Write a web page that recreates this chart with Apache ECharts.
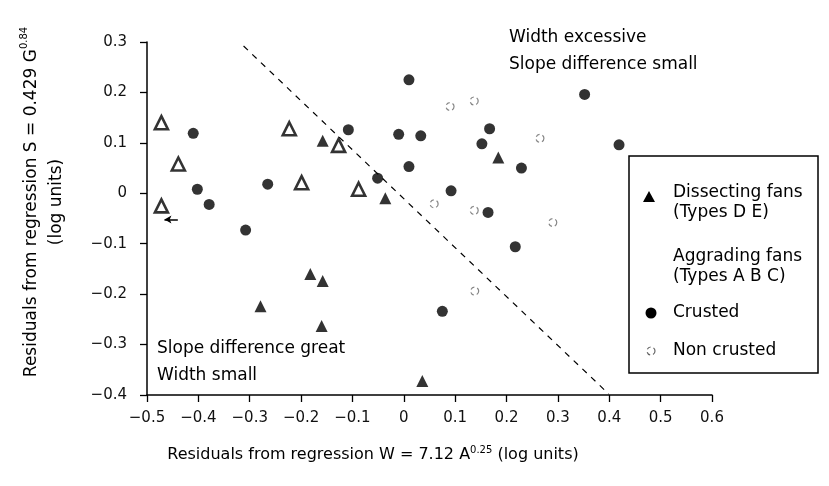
<!DOCTYPE html>
<html>
<head>
<meta charset="utf-8">
<script src="https://cdn.jsdelivr.net/npm/echarts@6/dist/echarts.min.js"></script>
<style>html,body{margin:0;padding:0;background:#fff}#c{width:829px;height:486px}</style>
</head>
<body>
<div id="c"></div>
<script>
// Dissecting fans (Types D E) - filled triangles
var dissecting = [
  [-0.158, 0.104], [-0.036, -0.010], [0.184, 0.071], [-0.182, -0.160],
  [-0.158, -0.174], [-0.279, -0.224], [-0.160, -0.263], [0.036, -0.372]
];
// open triangles
var openTriangles = [
  [-0.472, 0.140], [-0.439, 0.058], [-0.472, -0.025], [-0.223, 0.128],
  [-0.127, 0.095], [-0.199, 0.021], [-0.088, 0.008]
];
// Aggrading fans - crusted (filled circles)
var crusted = [
  [-0.410, 0.119], [-0.402, 0.008], [-0.379, -0.022], [-0.265, 0.018],
  [-0.308, -0.073], [-0.108, 0.126], [-0.051, 0.030], [-0.010, 0.117],
  [0.010, 0.225], [0.010, 0.053], [0.033, 0.114], [0.167, 0.128],
  [0.152, 0.098], [0.229, 0.050], [0.092, 0.005], [0.164, -0.038],
  [0.352, 0.196], [0.419, 0.096], [0.217, -0.106], [0.075, -0.234]
];
// Aggrading fans - non crusted (open circles)
var nonCrusted = [
  [0.137, 0.183], [0.090, 0.172], [0.265, 0.109], [0.059, -0.021],
  [0.137, -0.034], [0.138, -0.194], [0.290, -0.058]
];
// dividing dashed line
var dividingLine = [[-0.312, 0.292], [0.399, -0.398]];
// arrow marker
var arrowFrom = [-0.440, -0.052];
var arrowTo = [-0.466, -0.052];

var xTicks = {min: -0.5, max: 0.6, step: 0.1};
var yTicks = {min: -0.4, max: 0.3, step: 0.1};

var FONT = '"DejaVu Sans", "Liberation Sans", Arial, sans-serif';
var chart = echarts.init(document.getElementById('c'), null, {renderer: 'canvas'});

function fmt(v) {
  var r = Math.round(v * 10) / 10;
  if (r === 0) return '0';
  return r.toFixed(1).replace('-', '\u2212');
}

function txt(x, y, s, size) {
  return {type: 'text', x: x, y: y, style: {text: s, font: size + 'px ' + FONT, fill: '#000', verticalAlign: 'middle'}};
}

var option = {
  backgroundColor: '#fff',
  animation: false,
  grid: {left: 147, top: 42, width: 565, height: 353, containLabel: false},
  xAxis: {
    type: 'value', min: xTicks.min, max: xTicks.max, interval: xTicks.step,
    axisLine: {show: true, onZero: false, lineStyle: {color: '#000', width: 1.5}},
    axisTick: {show: true, inside: false, length: 7, lineStyle: {color: '#000', width: 1.3}},
    axisLabel: {color: '#111', fontSize: 15, fontFamily: FONT, margin: 16, formatter: fmt},
    splitLine: {show: false}
  },
  yAxis: {
    type: 'value', min: yTicks.min, max: yTicks.max, interval: yTicks.step,
    axisLine: {show: true, onZero: false, lineStyle: {color: '#000', width: 1.5}},
    axisTick: {show: true, inside: false, length: 7, lineStyle: {color: '#000', width: 1.3}},
    axisLabel: {color: '#111', fontSize: 15, fontFamily: FONT, margin: 20, formatter: fmt},
    splitLine: {show: false}
  },
  series: [
    {
      name: 'Divide', type: 'line', data: dividingLine, symbol: 'none',
      lineStyle: {color: '#000', width: 1.2, type: [6, 6]}, z: 1, silent: true,
      markLine: {
        silent: true, symbol: ['none', 'arrow'], symbolSize: [6, 7],
        label: {show: false},
        lineStyle: {color: '#000', width: 1.5, type: 'solid'},
        data: [[{coord: arrowFrom}, {coord: arrowTo}]]
      }
    },
    {
      name: 'Dissecting fans', type: 'scatter', data: dissecting,
      symbol: 'triangle', symbolSize: 12, itemStyle: {color: '#000'}
    },
    {
      name: 'Open triangles', type: 'scatter', data: openTriangles,
      symbol: 'triangle', symbolSize: 13,
      itemStyle: {color: '#fff', borderColor: '#000', borderWidth: 2.6}
    },
    {
      name: 'Crusted', type: 'scatter', data: crusted,
      symbol: 'circle', symbolSize: 11, itemStyle: {color: '#000'}
    },
    {
      name: 'Non crusted', type: 'scatter', data: nonCrusted,
      symbol: 'circle', symbolSize: 8,
      itemStyle: {color: 'rgba(255,255,255,0)', borderColor: '#666', borderWidth: 1.2, borderType: [4, 3]}
    }
  ],
  graphic: [
    txt(509, 38, 'Width excessive', 17),
    txt(509, 65, 'Slope difference small', 17),
    txt(157, 349, 'Slope difference great', 17),
    txt(157, 376, 'Width small', 17),
    {
      type: 'text', x: 373, y: 455,
      style: {
        text: '{a|Residuals from regression W = 7.12 A}{s|0.25}{a| (log units)}',
        align: 'center', verticalAlign: 'middle',
        rich: {a: {fontSize: 16, fontFamily: FONT, color: '#000'}, s: {fontSize: 10, fontFamily: FONT, color: '#000', verticalAlign: 'top', padding: [0, 0, 9, 0]}}
      }
    },
    {
      type: 'text', x: 44, y: 202, rotation: Math.PI / 2,
      style: {
        text: '{a|Residuals from regression S = 0.429 G}{s|0.84}\n{a|(log units)}',
        align: 'center', verticalAlign: 'middle', lineHeight: 25,
        rich: {a: {fontSize: 17, fontFamily: FONT, color: '#000', lineHeight: 25}, s: {fontSize: 10, fontFamily: FONT, color: '#000', verticalAlign: 'top', padding: [0, 0, 9, 0], lineHeight: 25}}
      }
    },
    {type: 'rect', shape: {x: 629, y: 156, width: 189, height: 217}, style: {fill: '#fff', stroke: '#000', lineWidth: 1.5}},
    {type: 'polygon', shape: {points: [[649, 191], [643, 202], [655, 202]]}, style: {fill: '#000'}},
    txt(673, 193, 'Dissecting fans', 17),
    txt(673, 213, '(Types D E)', 17),
    txt(673, 257, 'Aggrading fans', 17),
    txt(673, 277, '(Types A B C)', 17),
    {type: 'circle', shape: {cx: 651, cy: 313, r: 5.5}, style: {fill: '#000'}},
    txt(673, 313, 'Crusted', 17),
    {type: 'circle', shape: {cx: 651, cy: 351, r: 4}, style: {fill: 'none', stroke: '#666', lineWidth: 1.2, lineDash: [4, 3]}},
    txt(673, 351, 'Non crusted', 17)
  ]
};
chart.setOption(option);
</script>
</body>
</html>
